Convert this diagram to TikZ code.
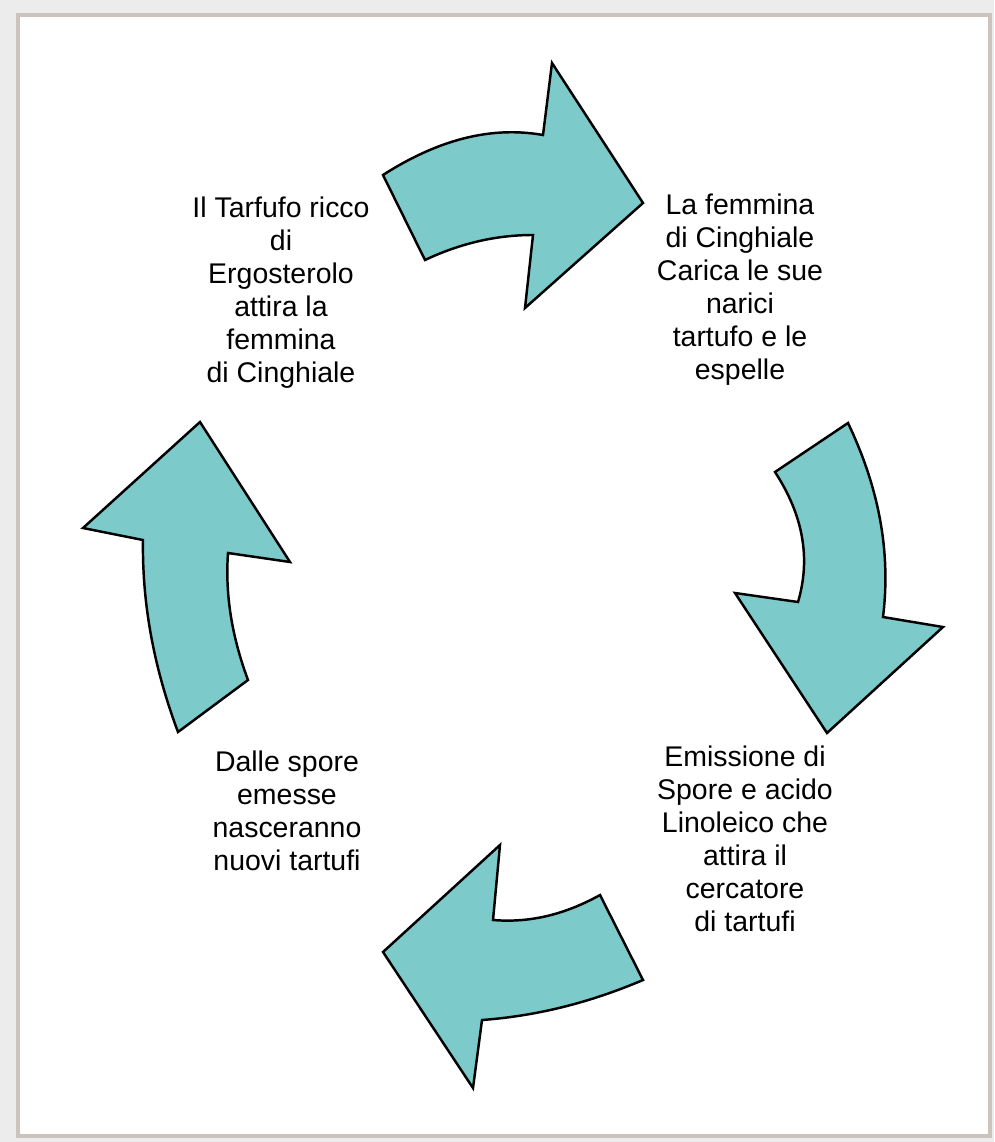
\documentclass[tikz,border=0pt]{standalone}
\usepackage{fontspec}
\setmainfont{Liberation Sans}
\definecolor{arrowteal}{RGB}{124,202,202}
\definecolor{framegrey}{RGB}{204,196,188}
\definecolor{pagegrey}{RGB}{236,236,236}
\tikzset{
  arrowshape/.style={draw=black,fill=arrowteal,line width=1.4pt,line join=miter},
  cycletext/.style={align=center,inner sep=0pt,font=\fontsize{16.2}{18.8}\selectfont}
}
\begin{document}
\begin{tikzpicture}[x=0.02cm,y=-0.02cm]
      % page and frame
      \fill[pagegrey] (0,0) rectangle (994,1142);
      \draw[framegrey,fill=white,line width=2.2pt] (18,15) rectangle (990,1136);
      % the four arrows
      \draw[arrowshape] (383,175) .. controls (439,139) and (492,126) .. (543,135) -- (552,63)
        -- (643,203) -- (525,308) -- (533,235) .. controls (497,235) and (461,243) .. (425,260) -- cycle;
      \draw[arrowshape] (775,472) -- (848,423) .. controls (879,488) and (891,552) .. (883,617)
        -- (943,627) -- (827,733) -- (735,593) -- (798,602) .. controls (811,558) and (803,515) .. cycle;
      \draw[arrowshape] (600,895) .. controls (564,915) and (529,923) .. (493,920) -- (500,845)
        -- (383,952) -- (473,1088) -- (482,1020) .. controls (536,1016) and (589,1003) .. (643,980) -- cycle;
      \draw[arrowshape] (200,422) -- (290,562) -- (228,553) .. controls (225,595) and (232,637) .. (248,680)
        -- (178,732) .. controls (154,668) and (142,604) .. (143,540) -- (83,528) -- cycle;
      % texts
      \draw
        (281,293) node[cycletext] (ergo){Il Tarfufo ricco\\di\\Ergosterolo\\attira la\\femmina\\di Cinghiale}
        (740,290) node[cycletext] (femmina){La femmina\\di Cinghiale\\Carica le sue\\narici\\tartufo e le\\espelle}
        (745,839) node[cycletext] (spore){Emissione di\\Spore e acido\\Linoleico che\\attira il\\cercatore\\di tartufi}
        (287,811) node[cycletext] (nuovi){Dalle spore\\emesse\\nasceranno\\nuovi tartufi};
    \end{tikzpicture}
\end{document}
